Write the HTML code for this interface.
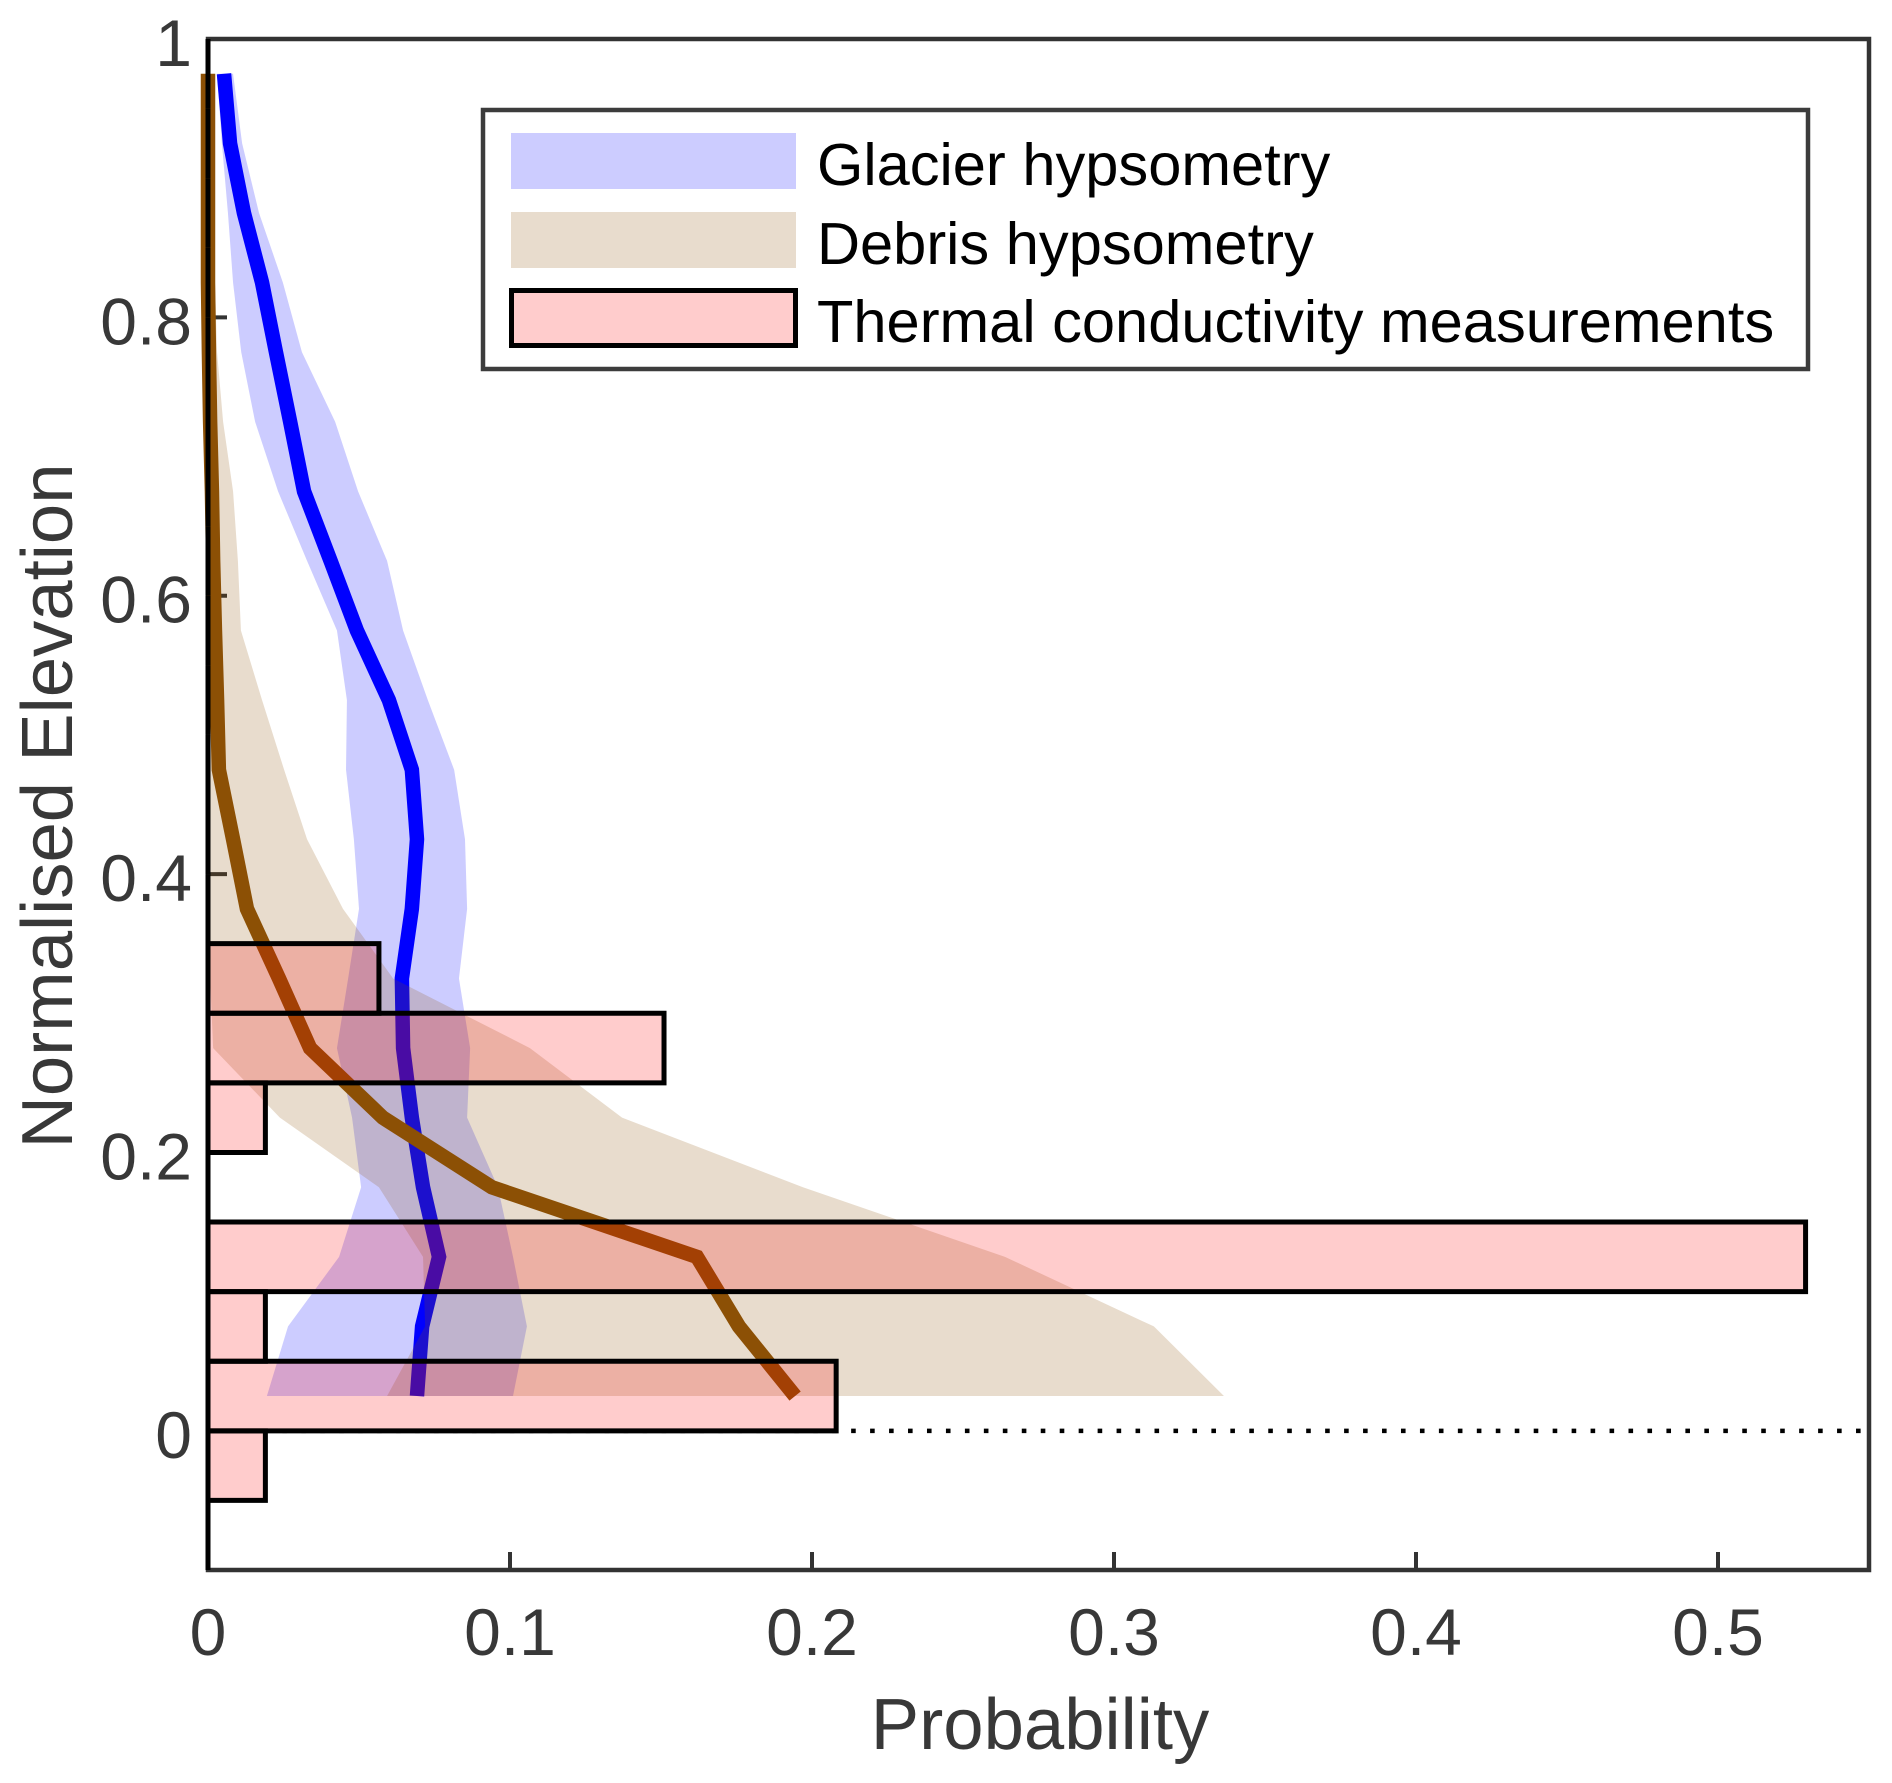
<!DOCTYPE html>
<html lang="en">
<head>
<meta charset="utf-8">
<title>Normalised elevation probability chart</title>
<style>
  html, body { margin: 0; padding: 0; background: #fff; }
  svg { display: block; }
  text { font-family: "Liberation Sans", sans-serif; }
  .tick-label { font-size: 66px; fill: #383838; }
  .axis-title { font-size: 72.5px; fill: #383838; }
  .legend-text { font-size: 59.6px; fill: #000; }
</style>
</head>
<body>
<svg id="chart" xmlns="http://www.w3.org/2000/svg" width="1892" height="1783" viewBox="0 0 1892 1783">
  <rect x="0" y="0" width="1892" height="1783" fill="#fff"/>
  <g id="axes-layer"></g>
  <g id="plot-layer"></g>
  <text class="axis-title" x="1040" y="1749" text-anchor="middle">Probability</text>
  <text class="axis-title" x="0" y="0" text-anchor="middle" transform="translate(72 806) rotate(-90)">Normalised Elevation</text>
  <g>
    <rect x="483" y="110" width="1325" height="259" fill="#fff" stroke="#3c3c3c" stroke-width="4.5"/>
    <rect x="511" y="133" width="285" height="56" fill="#ccccff"/>
    <rect x="511" y="212" width="285" height="56" fill="#e8dccd"/>
    <rect x="511.5" y="290.5" width="284" height="55" fill="#ffcccc" stroke="#000" stroke-width="5"/>
    <text class="legend-text" x="817" y="185">Glacier hypsometry</text>
    <text class="legend-text" x="817" y="264">Debris hypsometry</text>
    <text class="legend-text" x="817" y="342">Thermal conductivity measurements</text>
  </g>
</svg>
<script>
// Tick values and labels
const xTicks = [0, 0.1, 0.2, 0.3, 0.4, 0.5];
const xTickLabels = ['0', '0.1', '0.2', '0.3', '0.4', '0.5'];
const yTicks = [0, 0.2, 0.4, 0.6, 0.8, 1];
const yTickLabels = ['0', '0.2', '0.4', '0.6', '0.8', '1'];

// Elevation bin centres for the hypsometry series
const elevation = [0.025, 0.075, 0.125, 0.175, 0.225, 0.275, 0.325, 0.375, 0.425, 0.475, 0.525, 0.575, 0.625, 0.675, 0.725, 0.775, 0.825, 0.875, 0.925, 0.975];

// Glacier hypsometry
const glacierMean = [0.0692, 0.0709, 0.0765, 0.0712, 0.0675, 0.0646, 0.0642, 0.0675, 0.0692, 0.0675, 0.0599, 0.0493, 0.0406, 0.0318, 0.0272, 0.0225, 0.0179, 0.0119, 0.0073, 0.0053];
const glacierLow = [0.0195, 0.0265, 0.0434, 0.0507, 0.0477, 0.0427, 0.0464, 0.05, 0.0483, 0.0457, 0.046, 0.0427, 0.0328, 0.0232, 0.0156, 0.011, 0.0083, 0.0066, 0.0046, 0.003];
const glacierHigh = [0.101, 0.1056, 0.101, 0.096, 0.0858, 0.0868, 0.0831, 0.0858, 0.0851, 0.0815, 0.0728, 0.0646, 0.0593, 0.0497, 0.0421, 0.0311, 0.0248, 0.0169, 0.0113, 0.0083];

// Debris hypsometry
const debrisMean = [0.1944, 0.1758, 0.1619, 0.094, 0.0579, 0.0338, 0.0235, 0.0129, 0.0083, 0.0036, 0.003, 0.0023, 0.0017, 0.0013, 0.0007, 0.0003, 0, 0, 0, 0];
const debrisLow = [0.0593, 0.0719, 0.0712, 0.0566, 0.0238, 0.0017, 0.0007, 0, 0, 0, 0, 0, 0, 0, 0, 0, 0, 0, 0, 0];
const debrisHigh = [0.3364, 0.3132, 0.2639, 0.197, 0.1371, 0.1066, 0.0613, 0.0447, 0.0328, 0.0252, 0.0179, 0.0109, 0.0099, 0.0083, 0.005, 0.003, 0.0023, 0.0017, 0.0013, 0.0007];

// Thermal conductivity histogram
const binStarts = [-0.1, -0.05, 0, 0.05, 0.1, 0.15, 0.2, 0.25, 0.3, 0.35, 0.4, 0.45, 0.5, 0.55, 0.6, 0.65, 0.7, 0.75, 0.8, 0.85, 0.9, 0.95];
const thermalProbability = [0, 0.019, 0.208, 0.019, 0.529, 0, 0.019, 0.151, 0.0566, 0, 0, 0, 0, 0, 0, 0, 0, 0, 0, 0, 0, 0];
const binWidth = 0.05;

// Axis functions
const xMax = 0.55;
const yMin = -0.1;
const yMax = 1;
function sx(v) { return 208 + (v / xMax) * 1661; }
function sy(v) { return 1570 - ((v - yMin) / (yMax - yMin)) * 1531; }

const NS = 'http://www.w3.org/2000/svg';
const axesLayer = document.getElementById('axes-layer');
const plotLayer = document.getElementById('plot-layer');

function make(tag, attrs, parent) {
  const el = document.createElementNS(NS, tag);
  for (const k in attrs) el.setAttribute(k, attrs[k]);
  parent.appendChild(el);
  return el;
}

function bandPoints(low, high, ys) {
  const pts = [];
  for (let i = 0; i < ys.length; i++) pts.push(sx(low[i]) + ',' + sy(ys[i]));
  for (let i = ys.length - 1; i >= 0; i--) pts.push(sx(high[i]) + ',' + sy(ys[i]));
  return pts.join(' ');
}

function linePoints(values, ys) {
  return values.map(function (v, i) { return sx(v) + ',' + sy(ys[i]); }).join(' ');
}

// Axes
const axisBox = make('rect', { x: sx(0), y: sy(yMax), width: sx(xMax) - sx(0), height: sy(yMin) - sy(yMax), fill: 'none', stroke: '#333', 'stroke-width': 4.5 }, axesLayer);



xTicks.forEach(function (t, i) {
  const tick = make('line', { x1: sx(t), x2: sx(t), y1: sy(yMin), y2: sy(yMin) - 18, stroke: '#333', 'stroke-width': 4 }, axesLayer);
  
  
  const label = make('text', { x: sx(t), y: 1655, 'text-anchor': 'middle', class: 'tick-label' }, axesLayer);
  
  
  label.textContent = xTickLabels[i];
});

yTicks.forEach(function (t, i) {
  const tick = make('line', { x1: sx(0), x2: sx(0) + 19, y1: sy(t), y2: sy(t), stroke: '#333', 'stroke-width': 4 }, axesLayer);
  
  
  const label = make('text', { x: 192, y: sy(t) + 27, 'text-anchor': 'end', class: 'tick-label' }, axesLayer);
  
  
  label.textContent = yTickLabels[i];
});

// Zero reference line
const zeroLine = make('line', { x1: sx(0) - 1.5, x2: sx(xMax), y1: sy(0), y2: sy(0), stroke: '#000', 'stroke-width': 4.5, 'stroke-dasharray': '4.6 14.36' }, plotLayer);



// Glacier band and line
const glacierBand = make('polygon', { points: bandPoints(glacierLow, glacierHigh, elevation), fill: '#0000ff', 'fill-opacity': 0.2 }, plotLayer);



const glacierLine = make('polyline', { points: linePoints(glacierMean, elevation), fill: 'none', stroke: '#0000ff', 'stroke-width': 14.5, 'stroke-linejoin': 'miter' }, plotLayer);



// Debris band and line
const debrisBand = make('polygon', { points: bandPoints(debrisLow, debrisHigh, elevation), fill: '#8c5005', 'fill-opacity': 0.2 }, plotLayer);



const debrisLine = make('polyline', { points: linePoints(debrisMean, elevation), fill: 'none', stroke: '#8c5005', 'stroke-width': 14.5, 'stroke-linejoin': 'miter' }, plotLayer);



// Histogram bars, drawn as paths so zero-width bins still show their edge
binStarts.forEach(function (start, i) {
  const x0 = sx(0);
  const x1 = sx(thermalProbability[i]);
  const y0 = sy(start);
  const y1 = sy(start + binWidth);
  const bar = make('path', { d: 'M' + x0 + ' ' + y0 + ' H' + x1 + ' V' + y1 + ' H' + x0 + ' Z', fill: '#ff0000', 'fill-opacity': 0.2, stroke: '#000', 'stroke-width': 5 }, plotLayer);
  
  
});
</script>
</body>
</html>
